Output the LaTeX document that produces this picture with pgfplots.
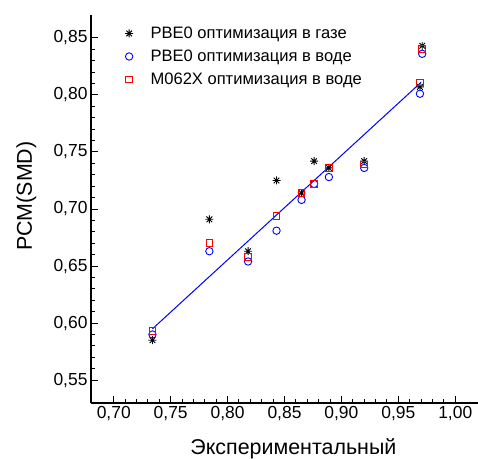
\documentclass[border=0pt]{standalone}
\usepackage{fontspec}
\setmainfont{Liberation Sans}
\usepackage{pgfplots}
\pgfplotsset{compat=1.18}

% eight-armed star like the original marker
\pgfdeclareplotmark{astr}{%
  \pgfpathmoveto{\pgfqpoint{-\pgfplotmarksize}{0pt}}\pgfpathlineto{\pgfqpoint{\pgfplotmarksize}{0pt}}%
  \pgfpathmoveto{\pgfqpoint{0pt}{-\pgfplotmarksize}}\pgfpathlineto{\pgfqpoint{0pt}{\pgfplotmarksize}}%
  \pgfpathmoveto{\pgfqpoint{-0.707\pgfplotmarksize}{-0.707\pgfplotmarksize}}\pgfpathlineto{\pgfqpoint{0.707\pgfplotmarksize}{0.707\pgfplotmarksize}}%
  \pgfpathmoveto{\pgfqpoint{-0.707\pgfplotmarksize}{0.707\pgfplotmarksize}}\pgfpathlineto{\pgfqpoint{0.707\pgfplotmarksize}{-0.707\pgfplotmarksize}}%
  \pgfusepathqstroke}

\begin{document}
\begin{tikzpicture}
\begin{axis}[name=ax, at={(0,0)}, anchor=south west,
  scale only axis, width=387bp, height=388bp,
  xmin=0.68, xmax=1.02, ymin=0.53, ymax=0.87,
  axis x line*=bottom, axis y line*=left,
  axis line style={line width=1.2bp, black},
  xtick={0.70,0.75,...,1.00}, ytick={0.55,0.60,...,0.85},
  minor x tick num=4, minor y tick num=4,
  tick align=inside, major tick length=7bp, minor tick length=4bp,
  every tick/.style={black, line width=1bp},
  /pgf/number format/.cd, fixed, fixed zerofill, precision=2, use comma, assume math mode=true,
  /pgfplots/.cd,
  tick label style={font=\fontsize{17.5}{20}\selectfont},
  xlabel={Экспериментальный}, ylabel={PCM(SMD)},
  label style={font=\fontsize{21.5}{24}\selectfont},
  xlabel style={at={(axis description cs:0.523,-0.133)}, anchor=base},
  ylabel style={at={(axis description cs:-0.153,0.533)}, anchor=base},
  legend style={draw=none, fill=none, at={(axis description cs:0.08,0.98)}, anchor=north west,
    font=\fontsize{16.6}{19}\selectfont, row sep=6bp, legend cell align=left},
  legend image code/.code={\path (0bp,0bp) (22bp,0bp); \draw[#1] plot coordinates {(3bp,0bp)};},
]
\addplot[only marks, mark=astr, mark size=4bp, black, line width=0.9bp]
  coordinates {(0.734,0.585) (0.784,0.691) (0.818,0.663) (0.843,0.725) (0.865,0.714)
  (0.876,0.742) (0.889,0.736) (0.920,0.742) (0.969,0.807) (0.971,0.843)};
\addplot[only marks, mark=o, mark size=3.7bp, blue, line width=0.9bp]
  coordinates {(0.734,0.590) (0.784,0.663) (0.818,0.654) (0.843,0.681) (0.865,0.708)
  (0.876,0.722) (0.889,0.728) (0.920,0.736) (0.969,0.801) (0.971,0.836)};
\addplot[only marks, mark=square, mark size=3.3bp, red, line width=0.9bp]
  coordinates {(0.734,0.593) (0.784,0.670) (0.818,0.658) (0.843,0.694) (0.865,0.714)
  (0.876,0.722) (0.889,0.736) (0.920,0.739) (0.969,0.811) (0.971,0.840)};
\addplot[blue, line width=1bp, no marks, forget plot]
  coordinates {(0.734,0.595) (0.970,0.811)};
\legend{PBE0 оптимизация в газе, PBE0 оптимизация в воде, M062X оптимизация в воде}
\end{axis}
\pgfresetboundingbox
\path (ax.south west) ++(-91bp,-56bp) rectangle ++(478bp,459bp);
\end{tikzpicture}
\end{document}
